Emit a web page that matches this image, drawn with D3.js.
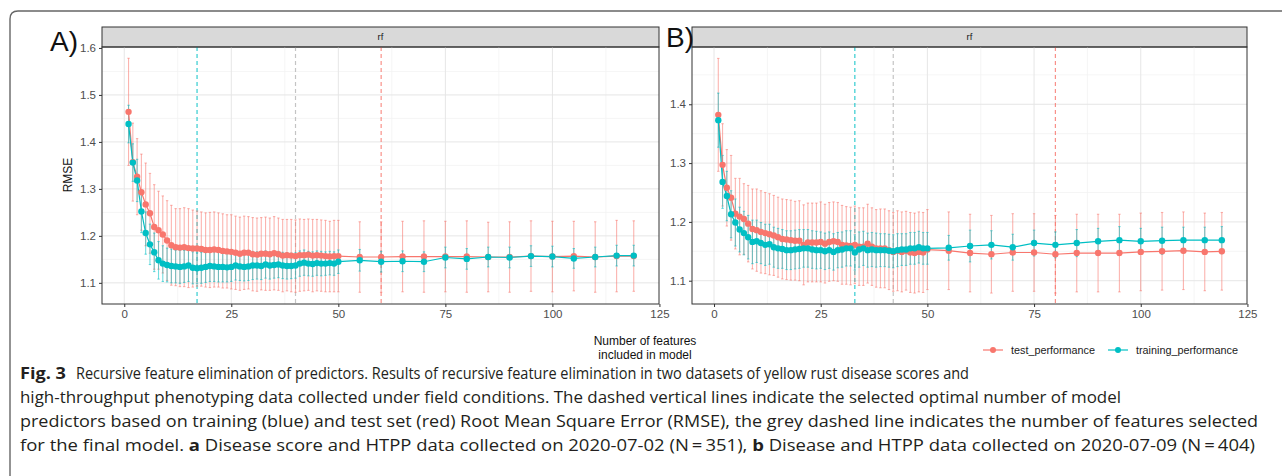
<!DOCTYPE html>
<html>
<head>
<meta charset="utf-8">
<script src="https://cdn.jsdelivr.net/npm/d3@7"></script>
<style>
  body { margin: 0; background: #fff; }
  svg { display: block; }
</style>
</head>
<body>
<div id="chart"></div>
<script>
// Number of features tested in the recursive elimination
const features = [1,2,3,4,5,6,7,8,9,10,11,12,13,14,15,16,17,18,19,20,21,22,23,24,25,
  26,27,28,29,30,31,32,33,34,35,36,37,38,39,40,41,42,43,44,45,46,47,48,49,50,
  55,60,65,70,75,80,85,90,95,100,105,110,115,119];

// Panel A (2020-07-02)
const testA = [1.464,1.357,1.326,1.293,1.267,1.248,1.219,1.212,1.203,1.190,1.180,1.176,1.175,1.176,1.174,
  1.173,1.173,1.172,1.170,1.170,1.171,1.170,1.168,1.167,1.166,1.164,1.162,1.164,1.164,1.161,
  1.160,1.162,1.162,1.161,1.163,1.161,1.158,1.159,1.158,1.157,1.159,1.159,1.160,1.158,1.159,
  1.158,1.157,1.156,1.157,1.157,
  1.155,1.155,1.156,1.156,1.156,1.156,1.155,1.155,1.157,1.156,1.157,1.155,1.157,1.157];
const testSdA = [0.114,0.083,0.081,0.081,0.088,0.085,0.090,0.083,0.082,0.085,0.085,0.082,0.083,0.084,0.084,
  0.082,0.080,0.079,0.079,0.080,0.080,0.079,0.079,0.078,0.079,0.078,0.078,0.078,0.077,0.078,
  0.078,0.077,0.078,0.077,0.078,0.077,0.077,0.076,0.077,0.077,0.077,0.076,0.076,0.077,0.076,
  0.076,0.076,0.075,0.076,0.076,
  0.075,0.075,0.075,0.076,0.075,0.076,0.074,0.075,0.075,0.075,0.074,0.075,0.076,0.075];
const trainA = [1.438,1.356,1.318,1.252,1.206,1.182,1.165,1.148,1.141,1.138,1.136,1.135,1.134,1.135,1.137,
  1.132,1.131,1.132,1.134,1.136,1.135,1.134,1.134,1.133,1.134,1.137,1.135,1.134,1.135,1.137,
  1.137,1.136,1.139,1.137,1.138,1.139,1.137,1.136,1.136,1.137,1.141,1.143,1.141,1.140,1.142,
  1.141,1.141,1.142,1.141,1.145,
  1.148,1.145,1.146,1.145,1.154,1.151,1.155,1.154,1.157,1.156,1.152,1.155,1.158,1.158];
const trainSdA = [0.040,0.040,0.045,0.045,0.045,0.043,0.041,0.040,0.038,0.036,0.036,0.035,0.035,0.034,0.034,
  0.034,0.033,0.033,0.033,0.033,0.032,0.032,0.032,0.031,0.031,0.031,0.030,0.030,0.030,0.030,
  0.029,0.029,0.029,0.029,0.028,0.028,0.028,0.028,0.027,0.027,0.027,0.027,0.026,0.026,0.026,
  0.026,0.025,0.025,0.025,0.025,
  0.023,0.022,0.022,0.021,0.022,0.022,0.021,0.022,0.022,0.022,0.021,0.021,0.022,0.022];

// Panel B (2020-07-09)
const testB = [1.382,1.297,1.258,1.241,1.214,1.209,1.205,1.197,1.188,1.186,1.183,1.181,1.179,1.177,1.174,
  1.171,1.170,1.169,1.168,1.168,1.161,1.165,1.165,1.165,1.166,1.163,1.166,1.167,1.166,1.161,
  1.160,1.159,1.161,1.158,1.158,1.163,1.158,1.155,1.155,1.155,1.152,1.149,1.151,1.149,1.151,
  1.148,1.147,1.149,1.148,1.153,
  1.151,1.147,1.145,1.148,1.148,1.145,1.147,1.147,1.147,1.149,1.150,1.151,1.149,1.150];
const testSdB = [0.096,0.070,0.065,0.072,0.060,0.065,0.060,0.065,0.068,0.070,0.070,0.069,0.069,0.068,0.068,
  0.068,0.068,0.068,0.067,0.068,0.068,0.067,0.067,0.067,0.068,0.067,0.067,0.067,0.067,0.067,
  0.066,0.066,0.066,0.066,0.066,0.067,0.066,0.066,0.067,0.067,0.067,0.067,0.068,0.068,0.067,
  0.068,0.068,0.068,0.068,0.068,
  0.066,0.066,0.066,0.066,0.066,0.066,0.066,0.066,0.066,0.066,0.066,0.066,0.066,0.066];
const trainB = [1.373,1.268,1.244,1.213,1.199,1.187,1.181,1.174,1.166,1.167,1.164,1.161,1.162,1.157,1.155,
  1.154,1.152,1.152,1.153,1.154,1.155,1.155,1.153,1.152,1.152,1.150,1.152,1.149,1.152,1.153,
  1.155,1.155,1.148,1.153,1.155,1.152,1.153,1.152,1.152,1.152,1.151,1.150,1.152,1.153,1.153,
  1.155,1.155,1.157,1.155,1.155,
  1.156,1.159,1.161,1.157,1.164,1.161,1.164,1.167,1.169,1.167,1.168,1.169,1.169,1.169];
const trainSdB = [0.046,0.045,0.042,0.040,0.040,0.038,0.037,0.037,0.037,0.036,0.035,0.035,0.034,0.034,0.034,
  0.033,0.033,0.033,0.033,0.033,0.032,0.032,0.032,0.032,0.031,0.031,0.031,0.031,0.030,0.030,
  0.030,0.030,0.030,0.030,0.029,0.029,0.029,0.029,0.028,0.028,0.028,0.028,0.028,0.027,0.027,
  0.027,0.027,0.027,0.027,0.027,
  0.021,0.027,0.024,0.022,0.022,0.022,0.023,0.022,0.023,0.022,0.023,0.022,0.022,0.023];

// selected feature counts (training optimum, final model, test optimum)
const selectedA = [17, 40, 60];
const selectedB = [33, 42, 80];

const xTicks = [0, 25, 50, 75, 100, 125];
const yTicksA = [1.1, 1.2, 1.3, 1.4, 1.5, 1.6];
const yTicksB = [1.1, 1.2, 1.3, 1.4];
const seriesNames = ["test_performance", "training_performance"];

const captionTitle = "Fig. 3";
const captionLines = [
  [["Recursive feature elimination of predictors. Results of recursive feature elimination in two datasets of yellow rust disease scores and", false]],
  [["high-throughput phenotyping data collected under field conditions. The dashed vertical lines indicate the selected optimal number of model", false]],
  [["predictors based on training (blue) and test set (red) Root Mean Square Error (RMSE), the grey dashed line indicates the number of features selected", false]],
  [["for the final model. ", false], ["a", true], [" Disease score and HTPP data collected on 2020-07-02 (N\u2009=\u2009351), ", false], ["b", true], [" Disease and HTPP data collected on 2020-07-09 (N\u2009=\u2009404)", false]]
];

const RED = "#F8766D", TEAL = "#00BFC4", GREY = "#BEBEBE";
const color = d3.scaleOrdinal().domain(seriesNames).range([RED, TEAL]);
const AXFONT = "'Liberation Sans', Arial, sans-serif";

const W = 1282, H = 476;
const svg = d3.select("#chart").append("svg")
  .attr("width", W).attr("height", H)
  .style("font-family", AXFONT);

// outer figure frame (rounded corner at top left)
svg.append("path")
  .attr("d", `M10,${H + 5} L10,19 Q10,11 18,11 L${W + 5},11`)
  .attr("fill", "none")
  .attr("stroke", "#666")
  .attr("stroke-width", 1.4);

function drawPanel(cfg) {
  const { left, right, top, bottom, xDomain, yDomain, yTicks, test, testSd, train, trainSd, selected, label, labelX, labelY } = cfg;
  const x = d3.scaleLinear().domain(xDomain).range([left, right]);
  const y = d3.scaleLinear().domain(yDomain).range([bottom, top]);
  const g = svg.append("g");

  // strip
  g.append("rect")
    .attr("x", left).attr("y", top - 20)
    .attr("width", right - left).attr("height", 20)
    .attr("fill", "#D9D9D9").attr("stroke", "#333").attr("stroke-width", 1);
  g.append("text")
    .attr("x", (left + right) / 2).attr("y", top - 7)
    .attr("text-anchor", "middle")
    .attr("font-size", 9.5).attr("fill", "#1A1A1A")
    .text("rf");

  // grid
  const xMinor = d3.range(xTicks.length - 1).map(i => (xTicks[i] + xTicks[i + 1]) / 2);
  const yStep = yTicks[1] - yTicks[0];
  const yMinor = yTicks.map(t => t + yStep / 2).concat([yTicks[0] - yStep / 2])
    .filter(v => v > yDomain[0] && v < yDomain[1]);
  const grid = g.append("g");
  grid.selectAll("line.xmin").data(xMinor).join("line")
    .attr("x1", d => x(d)).attr("x2", d => x(d)).attr("y1", top).attr("y2", bottom)
    .attr("stroke", "#F2F2F2").attr("stroke-width", 0.8);
  grid.selectAll("line.ymin").data(yMinor).join("line")
    .attr("y1", d => y(d)).attr("y2", d => y(d)).attr("x1", left).attr("x2", right)
    .attr("stroke", "#F2F2F2").attr("stroke-width", 0.8);
  grid.selectAll("line.xmaj").data(xTicks.filter(t => x(t) < right - 1)).join("line")
    .attr("x1", d => x(d)).attr("x2", d => x(d)).attr("y1", top).attr("y2", bottom)
    .attr("stroke", "#E6E6E6").attr("stroke-width", 1);
  grid.selectAll("line.ymaj").data(yTicks.filter(t => y(t) > top + 1)).join("line")
    .attr("y1", d => y(d)).attr("y2", d => y(d)).attr("x1", left).attr("x2", right)
    .attr("stroke", "#E6E6E6").attr("stroke-width", 1);

  // selected numbers of features
  const vColors = [TEAL, GREY, RED];
  g.selectAll("line.sel").data(selected).join("line")
    .attr("x1", d => x(d)).attr("x2", d => x(d)).attr("y1", top).attr("y2", bottom)
    .attr("stroke", (d, i) => vColors[i])
    .attr("stroke-opacity", (d, i) => i === 1 ? 0.9 : 0.8)
    .attr("stroke-width", 1.2)
    .attr("stroke-dasharray", "4,3");

  const series = [
    { key: seriesNames[0], mean: test, sd: testSd },
    { key: seriesNames[1], mean: train, sd: trainSd }
  ].map(s => ({ key: s.key, values: features.map((f, i) => ({ n: f, m: s.mean[i], sd: s.sd[i] })) }));

  // error bars
  const eb = g.append("g");
  series.forEach(s => {
    const sg = eb.append("g").attr("stroke", color(s.key)).attr("stroke-opacity", 0.55).attr("stroke-width", 1.1);
    sg.selectAll("line.v").data(s.values).join("line")
      .attr("x1", d => x(d.n)).attr("x2", d => x(d.n))
      .attr("y1", d => y(d.m - d.sd)).attr("y2", d => y(d.m + d.sd));
    sg.selectAll("line.t").data(s.values).join("line")
      .attr("x1", d => x(d.n) - 1.2).attr("x2", d => x(d.n) + 1.2)
      .attr("y1", d => y(d.m + d.sd)).attr("y2", d => y(d.m + d.sd));
    sg.selectAll("line.b").data(s.values).join("line")
      .attr("x1", d => x(d.n) - 1.2).attr("x2", d => x(d.n) + 1.2)
      .attr("y1", d => y(d.m - d.sd)).attr("y2", d => y(d.m - d.sd));
  });

  const line = d3.line().x(d => x(d.n)).y(d => y(d.m));
  g.selectAll("path.series").data(series).join("path")
    .attr("d", d => line(d.values))
    .attr("fill", "none").attr("stroke", d => color(d.key)).attr("stroke-width", 1.2);

  series.forEach(s => {
    g.append("g").selectAll("circle").data(s.values).join("circle")
      .attr("cx", d => x(d.n)).attr("cy", d => y(d.m)).attr("r", 3.2)
      .attr("fill", color(s.key));
  });

  // panel border
  g.append("rect")
    .attr("x", left).attr("y", top)
    .attr("width", right - left).attr("height", bottom - top)
    .attr("fill", "none").attr("stroke", "#333").attr("stroke-width", 1);

  // axes
  const xAxis = g.append("g").attr("transform", `translate(0,${bottom})`)
    .call(d3.axisBottom(x).tickValues(xTicks).tickSize(3).tickPadding(3).tickFormat(d3.format("d")));
  const yAxis = g.append("g").attr("transform", `translate(${left},0)`)
    .call(d3.axisLeft(y).tickValues(yTicks).tickSize(3).tickPadding(3).tickFormat(d3.format(".1f")));
  [xAxis, yAxis].forEach(a => {
    a.select(".domain").remove();
    a.selectAll(".tick line").attr("stroke", "#333");
    a.selectAll(".tick text").attr("fill", "#4D4D4D").attr("font-size", 11.5).attr("font-family", AXFONT);
  });

  svg.append("text")
    .attr("x", labelX).attr("y", labelY)
    .attr("font-size", 28).attr("fill", "#111")
    .attr("font-family", AXFONT)
    .text(label);
}

drawPanel({
  left: 102, right: 659, top: 47, bottom: 304,
  xDomain: [-5.2, 124.9], yDomain: [1.055, 1.602], yTicks: yTicksA,
  test: testA, testSd: testSdA, train: trainA, trainSd: trainSdA,
  selected: selectedA, label: "A)", labelX: 50, labelY: 51
});
drawPanel({
  left: 692, right: 1247, top: 47, bottom: 304,
  xDomain: [-5.16, 124.9], yDomain: [1.0604, 1.4974], yTicks: yTicksB,
  test: testB, testSd: testSdB, train: trainB, trainSd: trainSdB,
  selected: selectedB, label: "B)", labelX: 666, labelY: 47
});

// y axis title
svg.append("text")
  .attr("transform", "translate(72,175) rotate(-90)")
  .attr("text-anchor", "middle")
  .attr("font-size", 12).attr("fill", "#111")
  .text("RMSE");

// x axis title
const xt = svg.append("text")
  .attr("text-anchor", "middle")
  .attr("font-size", 12).attr("fill", "#111");
xt.append("tspan").attr("x", 645).attr("y", 344.5).text("Number of features");
xt.append("tspan").attr("x", 645).attr("y", 358.5).text("included in model");

// legend
const legX = [983, 1108];
const leg = svg.append("g");
seriesNames.forEach((s, i) => {
  const lg = leg.append("g").attr("transform", `translate(${legX[i]},350)`);
  lg.append("line").attr("x1", 0).attr("x2", 20).attr("stroke", color(s)).attr("stroke-width", 1.2);
  lg.append("circle").attr("cx", 10).attr("r", 3).attr("fill", color(s));
  lg.append("text").attr("x", 28).attr("y", 3.8)
    .attr("font-size", 10.8).attr("fill", "#1A1A1A").text(s);
});

// caption
const capStarts = [76, 20, 20, 20];
const capEnds = [969, 1121, 1258, 1255];
const cap = svg.append("g").attr("font-family", "'Open Sans', 'Noto Sans', sans-serif").attr("fill", "#231F20");
cap.append("text")
  .attr("x", 20).attr("y", 379)
  .attr("font-size", 16.5).attr("font-weight", 700)
  .attr("textLength", 46).attr("lengthAdjust", "spacingAndGlyphs")
  .text(captionTitle);
captionLines.forEach((parts, i) => {
  const t = cap.append("text")
    .attr("x", capStarts[i]).attr("y", 379 + i * 24)
    .attr("font-size", 16.5);
  parts.forEach(([str, bold]) => {
    t.append("tspan").attr("font-weight", bold ? 700 : 400).text(str);
  });
  t.attr("textLength", capEnds[i] - capStarts[i]).attr("lengthAdjust", "spacingAndGlyphs");
});
</script>
</body>
</html>
